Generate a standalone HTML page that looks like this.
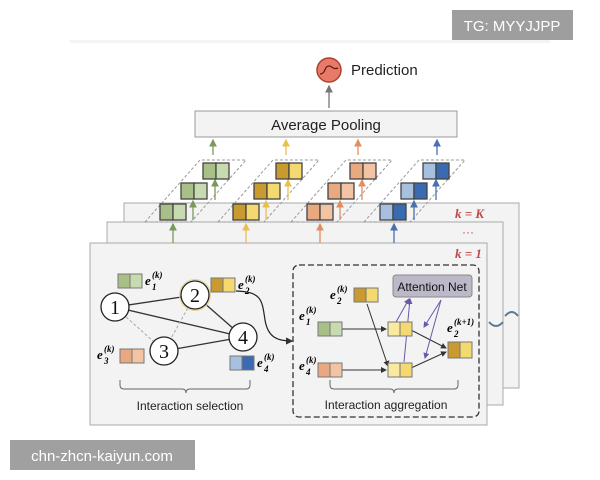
<!DOCTYPE html>
<html><head><meta charset="utf-8"><style>
html,body{margin:0;padding:0;background:#fff;width:600px;height:480px;overflow:hidden}
svg{display:block;font-family:"Liberation Sans",sans-serif}
.e{font-family:"Liberation Serif",serif;font-style:italic;font-weight:bold;font-size:13px}
.s{font-family:"Liberation Serif",serif;font-style:italic;font-weight:bold;font-size:9px}
</style></head><body>
<svg width="600" height="480" viewBox="0 0 600 480" xmlns="http://www.w3.org/2000/svg">
<defs>
<marker id="a" markerWidth="6" markerHeight="6" refX="5" refY="3" orient="auto"><path d="M0,0 L6,3 L0,6 z" fill="#333"/></marker>
<marker id="ap" markerWidth="6" markerHeight="6" refX="5" refY="3" orient="auto"><path d="M0,0 L6,3 L0,6 z" fill="#6a58a8"/></marker>
<marker id="ag" markerWidth="6" markerHeight="6" refX="5" refY="3" orient="auto"><path d="M0,0 L6,3 L0,6 z" fill="#7a9a5a"/></marker>
<marker id="ay" markerWidth="6" markerHeight="6" refX="5" refY="3" orient="auto"><path d="M0,0 L6,3 L0,6 z" fill="#e8c050"/></marker>
<marker id="ao" markerWidth="6" markerHeight="6" refX="5" refY="3" orient="auto"><path d="M0,0 L6,3 L0,6 z" fill="#e09060"/></marker>
<marker id="ab" markerWidth="6" markerHeight="6" refX="5" refY="3" orient="auto"><path d="M0,0 L6,3 L0,6 z" fill="#4a70b0"/></marker>
<marker id="ak" markerWidth="6" markerHeight="6" refX="5" refY="3" orient="auto"><path d="M0,0 L6,3 L0,6 z" fill="#777"/></marker>
</defs>
<rect x="70" y="40" width="480" height="3" fill="#f4f4f4"/>
<circle cx="329" cy="70" r="12" fill="#e87a6a" stroke="#b04030" stroke-width="1.5"/>
<path d="M320,74 C326,74 324,66 329,66 C333,66 332,70 338,68" fill="none" stroke="#5a1a10" stroke-width="1.2"/>
<text x="351" y="75" font-size="15" fill="#222">Prediction</text>
<line x1="329" y1="108" x2="329" y2="86" stroke="#777" stroke-width="1.3" marker-end="url(#ak)"/>
<rect x="195" y="111" width="262" height="26" fill="#f3f3f3" stroke="#999"/>
<text x="326" y="130" font-size="15" text-anchor="middle" fill="#222">Average Pooling</text>
<rect x="124" y="203" width="395" height="185" fill="#f3f3f3" stroke="#aaa"/>
<rect x="107" y="222" width="396" height="183" fill="#f3f3f3" stroke="#aaa"/>
<rect x="90" y="243" width="397" height="182" fill="#f3f3f3" stroke="#aaa"/>
<text x="455" y="218" class="e" fill="#c04848">k = K</text>
<text x="462" y="236" fill="#c04848" font-size="12">···</text>
<text x="455" y="258" class="e" fill="#c04848">k = 1</text>
<g stroke="#999" stroke-dasharray="3,2" fill="none">
<path d="M145,222 L191,222 L246,160 L200,160 Z"/>
<path d="M218,222 L264,222 L319,160 L273,160 Z"/>
<path d="M291,222 L337,222 L392,160 L346,160 Z"/>
<path d="M364,222 L410,222 L465,160 L419,160 Z"/>
</g>
<g stroke-width="1.3">
<line x1="173" y1="243" x2="173" y2="224" stroke="#7a9a5a" marker-end="url(#ag)"/>
<line x1="193" y1="220" x2="193" y2="201" stroke="#7a9a5a" marker-end="url(#ag)"/>
<line x1="215" y1="200" x2="215" y2="180" stroke="#7a9a5a" marker-end="url(#ag)"/>
<line x1="213" y1="155" x2="213" y2="140" stroke="#7a9a5a" marker-end="url(#ag)"/>
<line x1="246" y1="243" x2="246" y2="224" stroke="#e8c050" marker-end="url(#ay)"/>
<line x1="266" y1="220" x2="266" y2="201" stroke="#e8c050" marker-end="url(#ay)"/>
<line x1="288" y1="200" x2="288" y2="180" stroke="#e8c050" marker-end="url(#ay)"/>
<line x1="286" y1="155" x2="286" y2="140" stroke="#e8c050" marker-end="url(#ay)"/>
<line x1="320" y1="243" x2="320" y2="224" stroke="#e09060" marker-end="url(#ao)"/>
<line x1="340" y1="220" x2="340" y2="201" stroke="#e09060" marker-end="url(#ao)"/>
<line x1="362" y1="200" x2="362" y2="180" stroke="#e09060" marker-end="url(#ao)"/>
<line x1="358" y1="155" x2="358" y2="140" stroke="#e09060" marker-end="url(#ao)"/>
<line x1="394" y1="243" x2="394" y2="224" stroke="#4a70b0" marker-end="url(#ab)"/>
<line x1="414" y1="220" x2="414" y2="201" stroke="#4a70b0" marker-end="url(#ab)"/>
<line x1="436" y1="200" x2="436" y2="180" stroke="#4a70b0" marker-end="url(#ab)"/>
<line x1="437" y1="155" x2="437" y2="140" stroke="#4a70b0" marker-end="url(#ab)"/>
</g>
<g stroke="#444" stroke-width="1.3">
<rect x="160" y="204" width="13" height="16" fill="#a8c088"/><rect x="173" y="204" width="13" height="16" fill="#c8dab0"/>
<rect x="181" y="183" width="13" height="16" fill="#a8c088"/><rect x="194" y="183" width="13" height="16" fill="#c8dab0"/>
<rect x="203" y="163" width="13" height="16" fill="#a8c088"/><rect x="216" y="163" width="13" height="16" fill="#c8dab0"/>
<rect x="233" y="204" width="13" height="16" fill="#c89a30"/><rect x="246" y="204" width="13" height="16" fill="#f4d870"/>
<rect x="254" y="183" width="13" height="16" fill="#c89a30"/><rect x="267" y="183" width="13" height="16" fill="#f4d870"/>
<rect x="276" y="163" width="13" height="16" fill="#c89a30"/><rect x="289" y="163" width="13" height="16" fill="#f4d870"/>
<rect x="307" y="204" width="13" height="16" fill="#e8a880"/><rect x="320" y="204" width="13" height="16" fill="#f2c4a4"/>
<rect x="328" y="183" width="13" height="16" fill="#e8a880"/><rect x="341" y="183" width="13" height="16" fill="#f2c4a4"/>
<rect x="350" y="163" width="13" height="16" fill="#e8a880"/><rect x="363" y="163" width="13" height="16" fill="#f2c4a4"/>
<rect x="380" y="204" width="13" height="16" fill="#a8c0e0"/><rect x="393" y="204" width="13" height="16" fill="#3a6ab0"/>
<rect x="401" y="183" width="13" height="16" fill="#a8c0e0"/><rect x="414" y="183" width="13" height="16" fill="#3a6ab0"/>
<rect x="423" y="163" width="13" height="16" fill="#a8c0e0"/><rect x="436" y="163" width="13" height="16" fill="#3a6ab0"/>
</g>
<g stroke="#333" stroke-width="1.3">
<line x1="115" y1="307" x2="195" y2="295"/>
<line x1="115" y1="307" x2="243" y2="337"/>
<line x1="195" y1="295" x2="243" y2="337"/>
<line x1="164" y1="351" x2="243" y2="337"/>
</g>
<g stroke="#aaa" stroke-width="1" stroke-dasharray="3,2">
<line x1="115" y1="307" x2="164" y2="351"/>
<line x1="195" y1="295" x2="164" y2="351"/>
</g>
<g stroke="#222" stroke-width="1.3" fill="#fff">
<circle cx="115" cy="307" r="14"/>
<circle cx="195" cy="295" r="14"/><circle cx="195" cy="295" r="15.5" fill="none" stroke="#e8d890" stroke-width="1"/>
<circle cx="164" cy="351" r="14"/>
<circle cx="243" cy="337" r="14"/>
</g>
<g font-family="Liberation Serif,serif" font-size="20" fill="#111" text-anchor="middle">
<text x="115" y="314">1</text><text x="195" y="302">2</text><text x="164" y="358">3</text><text x="243" y="344">4</text>
</g>
<g stroke="#777" stroke-width="1">
<rect x="118" y="274" width="12" height="14" fill="#a8c088"/><rect x="130" y="274" width="12" height="14" fill="#c8dab0"/>
<rect x="211" y="278" width="12" height="14" fill="#c89a30"/><rect x="223" y="278" width="12" height="14" fill="#f4d870"/>
<rect x="120" y="349" width="12" height="14" fill="#e8a880"/><rect x="132" y="349" width="12" height="14" fill="#f2c4a4"/>
<rect x="230" y="356" width="12" height="14" fill="#a8c0e0"/><rect x="242" y="356" width="12" height="14" fill="#3a6ab0"/>
</g>
<text x="145" y="285" class="e">e</text><text x="152" y="278" class="s">(k)</text><text x="152" y="290" class="s">1</text>
<text x="238" y="289" class="e">e</text><text x="245" y="282" class="s">(k)</text><text x="245" y="294" class="s">2</text>
<text x="97" y="359" class="e">e</text><text x="104" y="352" class="s">(k)</text><text x="104" y="364" class="s">3</text>
<text x="257" y="367" class="e">e</text><text x="264" y="360" class="s">(k)</text><text x="264" y="372" class="s">4</text>
<path d="M120,380 v5 q0,4 4,4 h58 q4,0 4,4 q0,-4 4,-4 h56 q4,0 4,-4 v-5" fill="none" stroke="#666"/>
<text x="190" y="410" font-size="12" text-anchor="middle" fill="#222">Interaction selection</text>
<path d="M236,291 C262,292 262,300 265,320 C268,338 278,341 292,341" fill="none" stroke="#222" stroke-width="1.2" marker-end="url(#a)"/>
<rect x="293" y="265" width="186" height="152" rx="6" fill="none" stroke="#333" stroke-width="1.3" stroke-dasharray="6,3"/>
<rect x="393" y="275" width="79" height="22" rx="3" fill="#bcb8c8" stroke="#888"/>
<text x="432" y="291" font-size="12" text-anchor="middle" fill="#111">Attention Net</text>
<g stroke="#333" stroke-width="1" fill="none">
<line x1="342" y1="329" x2="386" y2="329" marker-end="url(#a)"/>
<line x1="342" y1="370" x2="386" y2="370" marker-end="url(#a)"/>
<line x1="367" y1="304" x2="388" y2="366" marker-end="url(#a)"/>
<line x1="411" y1="330" x2="446" y2="348" marker-end="url(#a)"/>
<line x1="411" y1="368" x2="446" y2="352" marker-end="url(#a)"/>
</g>
<g stroke="#6a58a8" stroke-width="1" fill="none">
<line x1="396" y1="322" x2="409" y2="299" marker-end="url(#ap)"/>
<line x1="404" y1="362" x2="410" y2="299" marker-end="url(#ap)"/>
<line x1="441" y1="300" x2="424" y2="327" marker-end="url(#ap)"/>
<line x1="441" y1="300" x2="425" y2="358" marker-end="url(#ap)"/>
</g>
<g stroke="#777" stroke-width="1">
<rect x="354" y="288" width="12" height="14" fill="#c89a30"/><rect x="366" y="288" width="12" height="14" fill="#f4d870"/>
<rect x="318" y="322" width="12" height="14" fill="#a8c088"/><rect x="330" y="322" width="12" height="14" fill="#c8dab0"/>
<rect x="318" y="363" width="12" height="14" fill="#e8a880"/><rect x="330" y="363" width="12" height="14" fill="#f2c4a4"/>
<rect x="388" y="322" width="12" height="14" fill="#faeaa0"/><rect x="400" y="322" width="12" height="14" fill="#f4d870"/>
<rect x="388" y="363" width="12" height="14" fill="#faeaa0"/><rect x="400" y="363" width="12" height="14" fill="#f4d870"/>
<rect x="448" y="342" width="12" height="16" fill="#c89a30"/><rect x="460" y="342" width="12" height="16" fill="#f4d870"/>
</g>
<text x="330" y="299" class="e">e</text><text x="337" y="292" class="s">(k)</text><text x="337" y="304" class="s">2</text>
<text x="299" y="320" class="e">e</text><text x="306" y="313" class="s">(k)</text><text x="306" y="325" class="s">1</text>
<text x="299" y="370" class="e">e</text><text x="306" y="363" class="s">(k)</text><text x="306" y="375" class="s">4</text>
<text x="447" y="332" class="e">e</text><text x="454" y="325" class="s">(k+1)</text><text x="454" y="337" class="s">2</text>
<path d="M330,380 v5 q0,4 4,4 h56 q4,0 4,4 q0,-4 4,-4 h56 q4,0 4,-4 v-5" fill="none" stroke="#666"/>
<text x="386" y="409" font-size="12" text-anchor="middle" fill="#222">Interaction  aggregation</text>
<path d="M489,322 q7,8 14,0" fill="none" stroke="#5a7a98" stroke-width="2"/>
<path d="M505,316 q7,-8 13,0" fill="none" stroke="#5a7a98" stroke-width="2"/>
<rect x="452" y="10" width="121" height="30" fill="#9e9e9e"/>
<text x="512" y="31" font-size="15" text-anchor="middle" fill="#fff">TG: MYYJJPP</text>
<rect x="10" y="440" width="185" height="30" fill="#a0a0a0"/>
<text x="102" y="461" font-size="15" text-anchor="middle" fill="#fff">chn-zhcn-kaiyun.com</text>
</svg>
</body></html>
